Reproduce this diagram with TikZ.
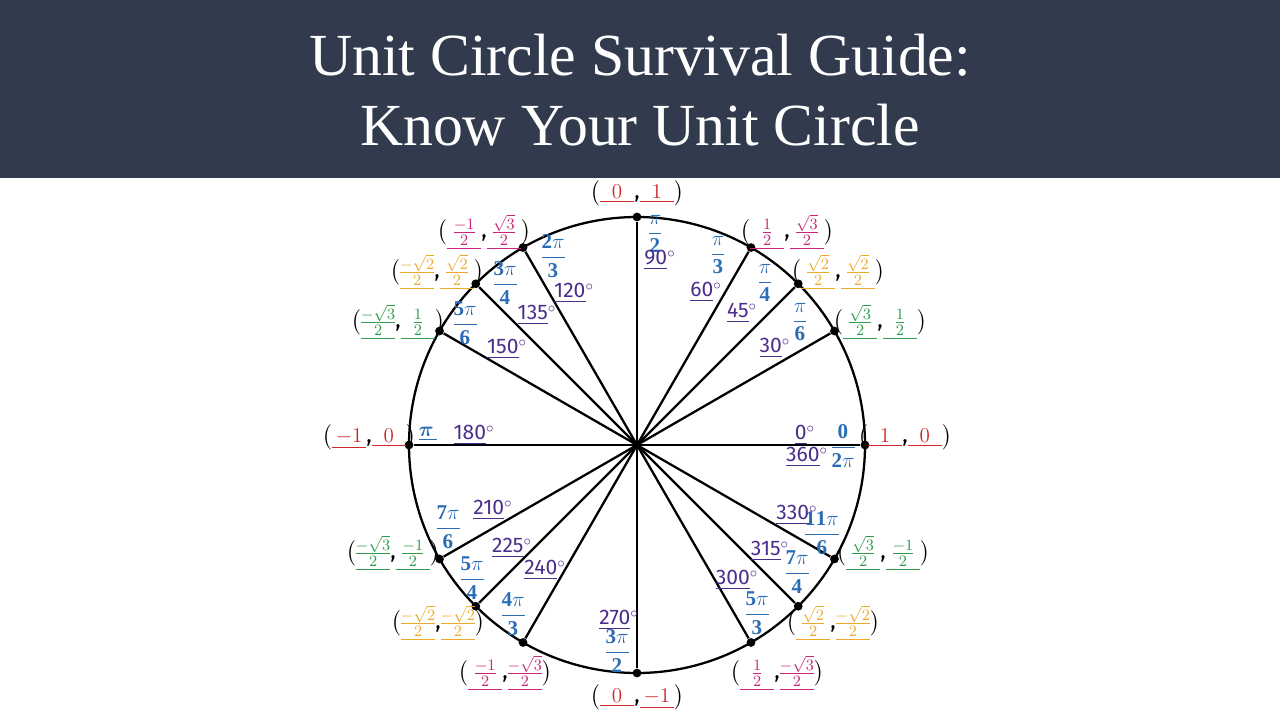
\documentclass[tikz,border=0pt]{standalone}
\usepackage{amsmath}
\usepackage{fontspec}
\setmainfont{Liberation Serif}
\newfontfamily\handfont{Fira Sans}
\usetikzlibrary{calc}
\definecolor{hdr}{HTML}{323A4E}
\definecolor{radc}{HTML}{2A6CB5}
\definecolor{degc}{HTML}{4B2E8C}
\definecolor{axc}{HTML}{D0282A}
\definecolor{sixc}{HTML}{C8267A}
\definecolor{fourc}{HTML}{EDA92A}
\definecolor{thrc}{HTML}{2E9A4A}
\newcommand*{\ulb}[1]{\underline{\hbox to 1.5em{\hss$#1$\hss}}}
\newcommand*{\pr}[3]{$\big(${\color{#1}\ulb{#2}},{\color{#1}\ulb{#3}}$\big)$}
\newcommand*{\dg}[1]{\underline{#1}$^{\circ}$}
\newcommand*{\rd}[2]{$\dfrac{\mathbf{#1}}{\mathbf{#2}}$}
\tikzset{
  spoke/.style={line width=1.3pt},
  dot/.style={circle, fill=black, inner sep=0pt, minimum size=5pt},
  rad/.style={text=radc, font=\handfont\fontsize{12}{13}\selectfont, inner sep=0pt},
  deg/.style={text=degc, font=\handfont\fontsize{12}{13}\selectfont, inner sep=0pt},
  pt/.style={font=\handfont\fontsize{13}{14}\selectfont, inner sep=0pt}
}
\begin{document}
\begin{tikzpicture}[x=0.02cm, y=-0.02cm]
 \useasboundingbox (0,0) rectangle (1280,720);
 \fill[hdr] (0,0) rectangle (1280,178);
 \node[text=white, align=center, font=\fontsize{34}{40}\selectfont] (title) at (640,90) {Unit Circle Survival Guide:\\Know Your Unit Circle};
 % circle and spokes
 \coordinate (O) at (637,445);
 \draw[spoke] (O) circle (228);
 \foreach \a in {0,30,45,60,90,120,135,150,180,210,225,240,270,300,315,330} {
   \node[dot] (p\a) at ($(O)+(\a:228 and -228)$) {};
   \draw[spoke] (O) -- (p\a);
 }
 % radians
 \node[rad] (r0) at (843,446) {\rd{0}{2\pi}};
 \node[rad] (r30) at (800,322) {\rd{\pi}{6}};
 \node[rad] (r45) at (765,283) {\rd{\pi}{4}};
 \node[rad] (r60) at (718,255) {\rd{\pi}{3}};
 \node[rad] (r90) at (655,234) {\rd{\pi}{2}};
 \node[rad] (r120) at (553,256) {\rd{2\pi}{3}};
 \node[rad] (r135) at (505,283) {\rd{3\pi}{4}};
 \node[rad] (r150) at (465,323) {\rd{5\pi}{6}};
 \node[rad] (r180) at (428,434) {\underline{$\boldsymbol{\pi}$\,}};
 \node[rad] (r210) at (448,527) {\rd{7\pi}{6}};
 \node[rad] (r225) at (472,578) {\rd{5\pi}{4}};
 \node[rad] (r240) at (513,614) {\rd{4\pi}{3}};
 \node[rad] (r270) at (617,651) {\rd{3\pi}{2}};
 \node[rad] (r300) at (757,613) {\rd{5\pi}{3}};
 \node[rad] (r315) at (797,572) {\rd{7\pi}{4}};
 \node[rad] (r330) at (822,533) {\rd{11\pi}{6}};
 % degrees
 \node[deg] (d0) at (805,435) {\dg{0}};
 \node[deg] (d360) at (807,457) {\dg{360}};
 \node[deg] (d30) at (775,348) {\dg{30}};
 \node[deg] (d45) at (742,313) {\dg{45}};
 \node[deg] (d60) at (706,292) {\dg{60}};
 \node[deg] (d90) at (660,260) {\dg{90}};
 \node[deg] (d120) at (574,293) {\dg{120}};
 \node[deg] (d135) at (537,315) {\dg{135}};
 \node[deg] (d150) at (507,349) {\dg{150}};
 \node[deg] (d180) at (474,435) {\dg{180}};
 \node[deg] (d210) at (493,510) {\dg{210}};
 \node[deg] (d225) at (512,548) {\dg{225}};
 \node[deg] (d240) at (545,570) {\dg{240}};
 \node[deg] (d270) at (619,620) {\dg{270}};
 \node[deg] (d300) at (737,580) {\dg{300}};
 \node[deg] (d315) at (770,551) {\dg{315}};
 \node[deg] (d330) at (797,515) {\dg{330}};
 % points
 \node[pt] (c90) at (637,193) {\pr{axc}{0}{1}};
 \node[pt] (c60) at (787,232) {\pr{sixc}{\frac12}{\frac{\sqrt3}{2}}};
 \node[pt] (c45) at (838,272) {\pr{fourc}{\frac{\sqrt2}{2}}{\frac{\sqrt2}{2}}};
 \node[pt] (c30) at (880,322) {\pr{thrc}{\frac{\sqrt3}{2}}{\frac12}};
 \node[pt] (c0) at (905,437) {\pr{axc}{1}{0}};
 \node[pt] (c330) at (883,553) {\pr{thrc}{\frac{\sqrt3}{2}}{\frac{-1}{2}}};
 \node[pt] (c315) at (833,623) {\pr{fourc}{\frac{\sqrt2}{2}}{\frac{-\sqrt2}{2}}};
 \node[pt] (c300) at (777,673) {\pr{sixc}{\frac12}{\frac{-\sqrt3}{2}}};
 \node[pt] (c270) at (637,697) {\pr{axc}{0}{-1}};
 \node[pt] (c240) at (505,673) {\pr{sixc}{\frac{-1}{2}}{\frac{-\sqrt3}{2}}};
 \node[pt] (c225) at (438,623) {\pr{fourc}{\frac{-\sqrt2}{2}}{\frac{-\sqrt2}{2}}};
 \node[pt] (c210) at (393,553) {\pr{thrc}{\frac{-\sqrt3}{2}}{\frac{-1}{2}}};
 \node[pt] (c180) at (369,437) {\pr{axc}{-1}{0}};
 \node[pt] (c150) at (398,322) {\pr{thrc}{\frac{-\sqrt3}{2}}{\frac12}};
 \node[pt] (c135) at (437,272) {\pr{fourc}{\frac{-\sqrt2}{2}}{\frac{\sqrt2}{2}}};
 \node[pt] (c120) at (484,232) {\pr{sixc}{\frac{-1}{2}}{\frac{\sqrt3}{2}}};
\end{tikzpicture}
\end{document}
